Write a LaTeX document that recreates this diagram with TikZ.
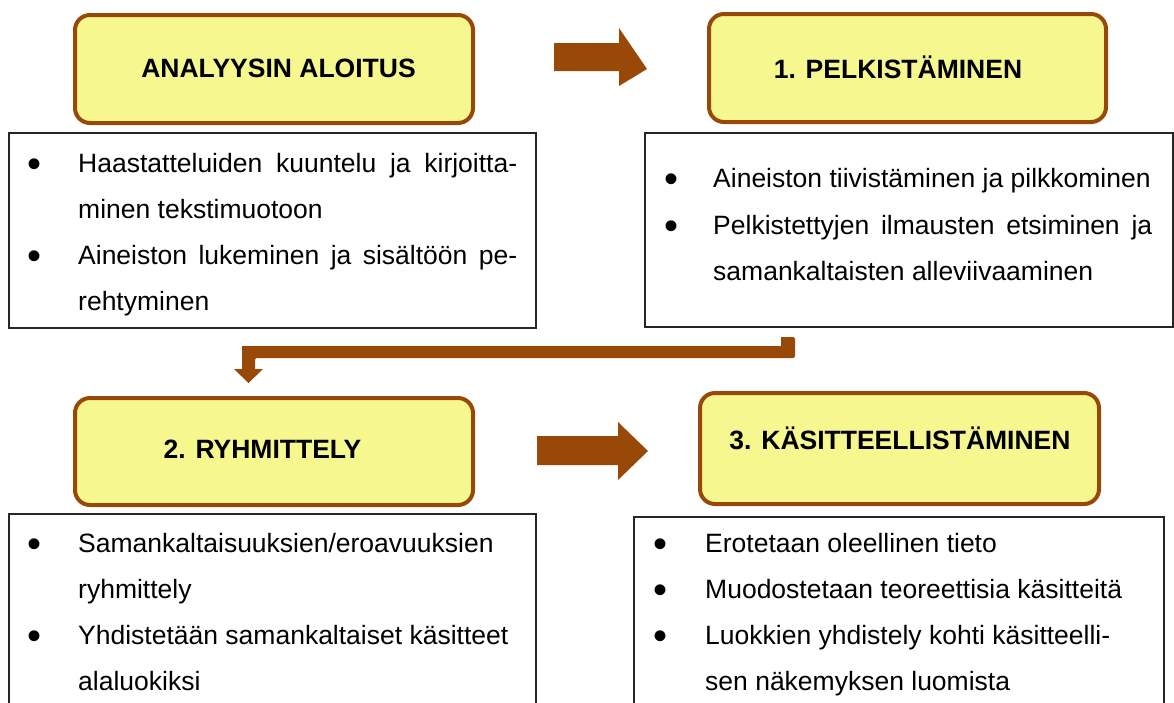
\documentclass[tikz,border=0pt]{standalone}
\usepackage{fontspec}
\setmainfont{Liberation Sans}
\definecolor{ybg}{RGB}{246,247,143}
\definecolor{brn}{RGB}{153,73,7}
\begin{document}
\begin{tikzpicture}[x=1pt,y=-1pt,
  ybox/.style={draw=brn, fill=ybg, line width=4pt, rounded corners=15pt, inner sep=0pt},
  title/.style={anchor=base, inner sep=0pt, font=\fontsize{26.5}{30}\selectfont\bfseries},
  lbox/.style={draw=black!85, line width=1.3pt, inner sep=0pt},
  ltext/.style={anchor=base west, inner sep=0pt, font=\fontsize{26.5}{30}\selectfont},
  bul/.style={anchor=base, inner sep=0pt, font=\fontsize{40}{40}\selectfont},
  barrow/.style={fill=brn, draw=none}]
\useasboundingbox (0,0) rectangle (1174,702);
\clip (0,0) rectangle (1174,702);
% yellow title boxes
\node[ybox, minimum width=398pt, minimum height=108pt] (bA) at (274,69) {};
\node[ybox, minimum width=397pt, minimum height=108pt] (b1) at (907.5,68) {};
\node[ybox, minimum width=398pt, minimum height=107pt] (b2) at (274,451.5) {};
\node[ybox, minimum width=399pt, minimum height=111pt] (b3) at (899.5,448.5) {};
\node[title] (tA) at (278.5,77.5) {ANALYYSIN ALOITUS};
\node[title] (t1) at (898,78) {1. PELKISTÄMINEN};
\node[title] (t2) at (262.5,458) {2. RYHMITTELY};
\node[title] (t3) at (900,449) {3. KÄSITTEELLISTÄMINEN};
% list boxes
\node[lbox, minimum width=527pt, minimum height=195pt] (lA) at (272.5,230.5) {};
\node[lbox, minimum width=528pt, minimum height=194pt] (l1) at (909,230) {};
\node[lbox, minimum width=527pt, minimum height=198pt] (l2) at (272.5,613) {};
\node[lbox, minimum width=530pt, minimum height=195pt] (l3) at (899,614.5) {};
% list A
\node[bul] (bA1) at (35,177) {•};
\node[bul] (bA2) at (35,269) {•};
\node[ltext] (xA1) at (78,172) {\hbox to 439pt{Haastatteluiden\hfill kuuntelu\hfill ja\hfill kirjoitta-}};
\node[ltext] (xA2) at (78,218) {minen tekstimuotoon};
\node[ltext] (xA3) at (78,264) {\hbox to 439pt{Aineiston\hfill lukeminen\hfill ja\hfill sisältöön\hfill pe-}};
\node[ltext] (xA4) at (78,310) {rehtyminen};
% list 1
\node[bul] (b11) at (671,192) {•};
\node[bul] (b12) at (671,239) {•};
\node[ltext] (x11) at (713,187) {Aineiston tiivistäminen ja pilkkominen};
\node[ltext] (x12) at (713,234) {\hbox to 439pt{Pelkistettyjen\hfill ilmausten\hfill etsiminen\hfill ja}};
\node[ltext] (x13) at (713,280) {samankaltaisten alleviivaaminen};
% list 2
\node[bul] (b21) at (35,557) {•};
\node[bul] (b22) at (35,649) {•};
\node[ltext] (x21) at (78,552) {Samankaltaisuuksien/eroavuuksien};
\node[ltext] (x22) at (78,598) {ryhmittely};
\node[ltext] (x23) at (78,644) {Yhdistetään samankaltaiset käsitteet};
\node[ltext] (x24) at (78,690) {alaluokiksi};
% list 3
\node[bul] (b31) at (660,557) {•};
\node[bul] (b32) at (660,603) {•};
\node[bul] (b33) at (660,649) {•};
\node[ltext] (x31) at (705,552) {Erotetaan oleellinen tieto};
\node[ltext] (x32) at (705,598) {Muodostetaan teoreettisia käsitteitä};
\node[ltext] (x33) at (705,644) {Luokkien yhdistely kohti käsitteelli-};
\node[ltext] (x34) at (705,690) {sen näkemyksen luomista};
% block arrows
\coordinate (a1s) at (554,57);
\coordinate (a2s) at (537,451);
\fill[brn] (a1s) ++(0,-14) -- ++(65,0) -- ++(0,-15) -- (bA.east -| 647,57) -- (619,86) -- (619,71) -- (554,71) -- cycle;
\fill[brn] (a2s) ++(0,-15) -- ++(81,0) -- ++(0,-14) -- (648,451) -- (618,480) -- (618,465) -- (537,465) -- cycle;
% elbow arrow
\coordinate (e1) at (795,337);
\fill[brn, rounded corners=2pt] (781,337) -- (e1) -- (795,358) -- (255,358) [sharp corners] -- (255,369) -- (263,369) -- (248.5,383) -- (234,369) -- (242,369) -- (242,346) -- (781,346) -- cycle;
\end{tikzpicture}
\end{document}
